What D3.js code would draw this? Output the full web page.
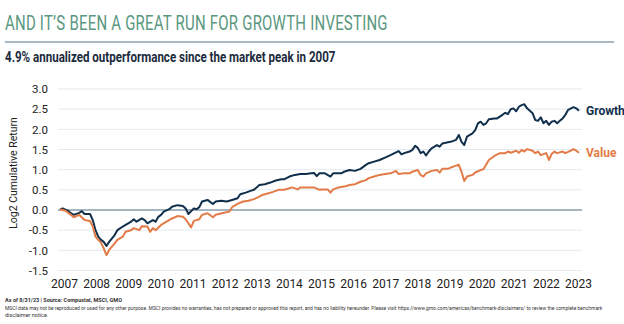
<!DOCTYPE html>
<html>
<head>
<meta charset="utf-8">
<script src="https://cdn.jsdelivr.net/npm/d3@7"></script>
<style>
  html, body { margin: 0; padding: 0; background: #fff; }
  svg { display: block; font-family: Roboto, "Noto Sans", sans-serif; }
</style>
</head>
<body>
<svg id="chart" width="624" height="324"></svg>
<script>
// ---- Data (months since Oct 2007, log2 cumulative return) ----
const titleText = "AND IT\u2019S BEEN A GREAT RUN FOR GROWTH INVESTING";
const subtitleText = "4.9% annualized outperformance since the market peak in 2007";
const yAxisTitle = "Log2 Cumulative Return";
const yearLabels = ["2007","2008","2009","2010","2011","2012","2013","2014","2015","2016","2017","2018","2019","2020","2021","2022","2023"];
const yTicks = [-1.5,-1.0,-0.5,0.0,0.5,1.0,1.5,2.0,2.5,3.0];
const seriesNames = ["Growth","Value"];
const totalMonths = 190;

const growthMonths = [0,1,3,4,5,7,8,9,11,12,13,14,15,16,17,18,20,21,23,24,25,26,27,28,30,31,32,34,35,36,37,38,40,41,43,45,46,47,49,50,51,
  52,54,56,57,59,61,63,65,66,68,70,71,73,75,77,79,81,82,84,86,88,90,92,93,94,95,97,99,100,103,
  104,106,108,110,112,113,115,117,119,121,123,124,125,126,128,129,130,131,132,133,134,135,136,138,139,140,142,143,145,146,147,148,149,151,152,153,154,
  155,156,157,159,160,162,163,164,165,166,167,168,169,170,171,172,173,174,175,176,177,178,179,180,181,182,183,184,185,186,188,189,190];
const growthValues = [0.02,0.04,-0.02,-0.08,-0.12,-0.07,-0.03,-0.10,-0.10,-0.25,-0.50,-0.66,-0.74,-0.79,-0.89,-0.79,-0.62,-0.50,-0.41,-0.37,-0.33,-0.29,-0.23,-0.29,-0.21,-0.25,-0.33,-0.25,-0.29,-0.17,-0.12,-0.04,0.02,0.08,0.12,0.10,0.04,-0.10,0.04,0.02,0.07,
  0.21,0.25,0.15,0.21,0.23,0.21,0.25,0.29,0.39,0.43,0.48,0.50,0.62,0.64,0.68,0.73,0.76,0.76,0.83,0.87,0.89,0.89,0.91,0.92,0.84,0.91,0.91,0.83,0.91,0.91,
  0.95,0.99,0.97,1.02,1.12,1.16,1.20,1.24,1.30,1.36,1.43,1.46,1.38,1.41,1.45,1.49,1.59,1.54,1.41,1.45,1.35,1.45,1.53,1.61,1.57,1.65,1.68,1.69,1.74,1.86,1.69,1.61,1.82,1.90,1.98,2.15,2.19,
  2.11,2.15,2.25,2.27,2.27,2.36,2.41,2.38,2.50,2.52,2.45,2.56,2.60,2.62,2.52,2.46,2.40,2.23,2.21,2.30,2.15,2.21,2.11,2.19,2.21,2.15,2.21,2.27,2.36,2.48,2.55,2.52,2.46];

const valueMonths = [0,2,4,5,7,9,11,12,13,14,15,16,17,18,20,21,23,24,26,27,29,30,32,33,34,35,37,39,41,43,45,46,48,49,51,
  52,54,56,57,60,62,63,65,67,69,71,73,74,76,78,80,82,84,85,87,88,90,92,93,95,96,98,99,100,102,
  104,106,108,110,112,113,115,117,119,121,123,124,126,128,129,131,132,133,134,136,138,139,140,142,143,145,146,147,148,149,151,152,154,
  155,156,157,159,161,163,164,165,167,168,169,170,171,173,174,175,176,178,179,180,181,182,184,185,187,188,189,190];
const valueValues = [0.02,-0.02,-0.12,-0.18,-0.12,-0.25,-0.27,-0.41,-0.66,-0.74,-0.81,-0.95,-1.12,-0.99,-0.83,-0.74,-0.66,-0.54,-0.50,-0.45,-0.50,-0.40,-0.41,-0.54,-0.45,-0.50,-0.37,-0.29,-0.21,-0.15,-0.17,-0.23,-0.43,-0.27,-0.23,
  -0.12,-0.08,-0.18,-0.12,-0.07,-0.04,0.07,0.15,0.21,0.23,0.27,0.33,0.37,0.41,0.45,0.50,0.50,0.54,0.56,0.51,0.56,0.56,0.56,0.56,0.50,0.51,0.51,0.43,0.51,0.56,
  0.58,0.62,0.64,0.70,0.74,0.79,0.83,0.87,0.89,0.91,0.97,0.89,0.91,0.91,0.95,0.99,0.87,0.83,0.91,0.97,0.99,0.93,1.02,1.02,1.05,1.10,1.12,0.95,0.72,0.83,0.87,0.93,0.99,
  1.01,1.12,1.24,1.34,1.41,1.41,1.45,1.42,1.47,1.42,1.49,1.45,1.51,1.47,1.41,1.45,1.36,1.41,1.24,1.39,1.45,1.41,1.45,1.41,1.47,1.51,1.47,1.42];

const footLine1 = "As of 8/31/23 | Source: Compustat, MSCI, GMO";
const footLine2 = "MSCI data may not be reproduced or used for any other purpose. MSCI provides no warranties, has not prepared or approved this report, and has no liability hereunder. Please visit https://www.gmo.com/americas/benchmark-disclaimers/ to review the complete benchmark";
const footLine3 = "disclaimer notice.";

// ---- Drawing ----
const svg = d3.select("#chart");
const colors = { Growth: "#102f4b", Value: "#e27b47" };

// fit a text horizontally to a target width by scaling it
function fitWidth(sel, x0, targetW) {
  const w = sel.node().getComputedTextLength();
  const k = targetW / w;
  sel.attr("x", 0).attr("transform", `translate(${x0},${sel.attr("y")}) scale(${k},1)`).attr("y", 0);
}

const title = svg.append("text").attr("x", 5).attr("y", 30)
  .attr("font-size", 20).attr("fill", "#5a977f").attr("letter-spacing", 0.3)
  .text(titleText);
fitWidth(title, 5, 383);

svg.append("line").attr("x1", 5).attr("x2", 614).attr("y1", 42).attr("y2", 42)
  .attr("stroke", "#a8b8c4").attr("stroke-width", 2);

const sub = svg.append("text").attr("x", 5).attr("y", 62)
  .attr("font-size", 15).attr("font-weight", 700).attr("fill", "#1b2b3b")
  .text(subtitleText);
fitWidth(sub, 5, 331);

const x = d3.scaleLinear().domain([0, totalMonths]).range([60, 579]);
const xLab = d3.scalePoint().domain(yearLabels).range([64, 578]);
const y = d3.scaleLinear().domain([-1.5, 3.0]).range([270.5, 89]);

// gridlines
const grid = svg.append("g");
grid.selectAll("line").data(yTicks.filter(d => d !== 0)).join("line")
  .attr("x1", 58).attr("x2", 582)
  .attr("y1", d => y(d)).attr("y2", d => y(d))
  .attr("stroke", "#e2ebf1").attr("stroke-width", 1);

// y axis labels
const yAxis = d3.axisLeft(y).tickValues(yTicks).tickFormat(d3.format(".1f")).tickSize(0).tickPadding(0);
const yg = svg.append("g").attr("transform", "translate(48,0)").call(yAxis);
yg.select(".domain").remove();
yg.selectAll("text").attr("font-size", 11.5).attr("fill", "#222").attr("font-family", "Roboto, sans-serif")
  .text(d => d < 0 ? "-" + d3.format(".1f")(-d) : d3.format(".1f")(d));

// x axis labels
const xAxis = d3.axisBottom(xLab).tickSize(0).tickPadding(0);
const xg = svg.append("g").attr("transform", "translate(0,279)").call(xAxis);
xg.select(".domain").remove();
xg.selectAll("text").attr("font-size", 12).attr("fill", "#222").attr("font-family", "Roboto, sans-serif");

// y axis title
svg.append("text").attr("transform", "translate(17,173) rotate(-90)")
  .attr("text-anchor", "middle").attr("font-size", 10.5).attr("fill", "#222")
  .text(yAxisTitle);

// zero line
svg.append("line").attr("x1", 58).attr("x2", 582).attr("y1", y(0)).attr("y2", y(0))
  .attr("stroke", "#a6b6c1").attr("stroke-width", 2);

const series = [
  { name: "Growth", months: growthMonths, values: growthValues },
  { name: "Value", months: valueMonths, values: valueValues }
];
const line = d3.line().x(d => x(d[0])).y(d => y(d[1]));
series.forEach(s => {
  const pts = s.months.map((m, i) => [m, s.values[i]]);
  svg.append("path").datum(pts).attr("d", line)
    .attr("fill", "none").attr("stroke", colors[s.name]).attr("stroke-width", 2)
    .attr("stroke-linejoin", "round");
  svg.append("text").attr("x", 586).attr("y", y(pts[pts.length - 1][1]) + 4.5)
    .attr("font-size", 12).attr("font-weight", 700).attr("fill", colors[s.name])
    .text(s.name);
});

// footnotes
svg.append("text").attr("x", 5).attr("y", 302).attr("font-size", 5.5).attr("font-weight", 700).attr("fill", "#333").text(footLine1);
const f2 = svg.append("text").attr("x", 5).attr("y", 310).attr("font-size", 5.5).attr("fill", "#333").text(footLine2);
fitWidth(f2, 5, 598);
svg.append("text").attr("x", 5).attr("y", 317).attr("font-size", 5.5).attr("fill", "#333").text(footLine3);
</script>
</body>
</html>
